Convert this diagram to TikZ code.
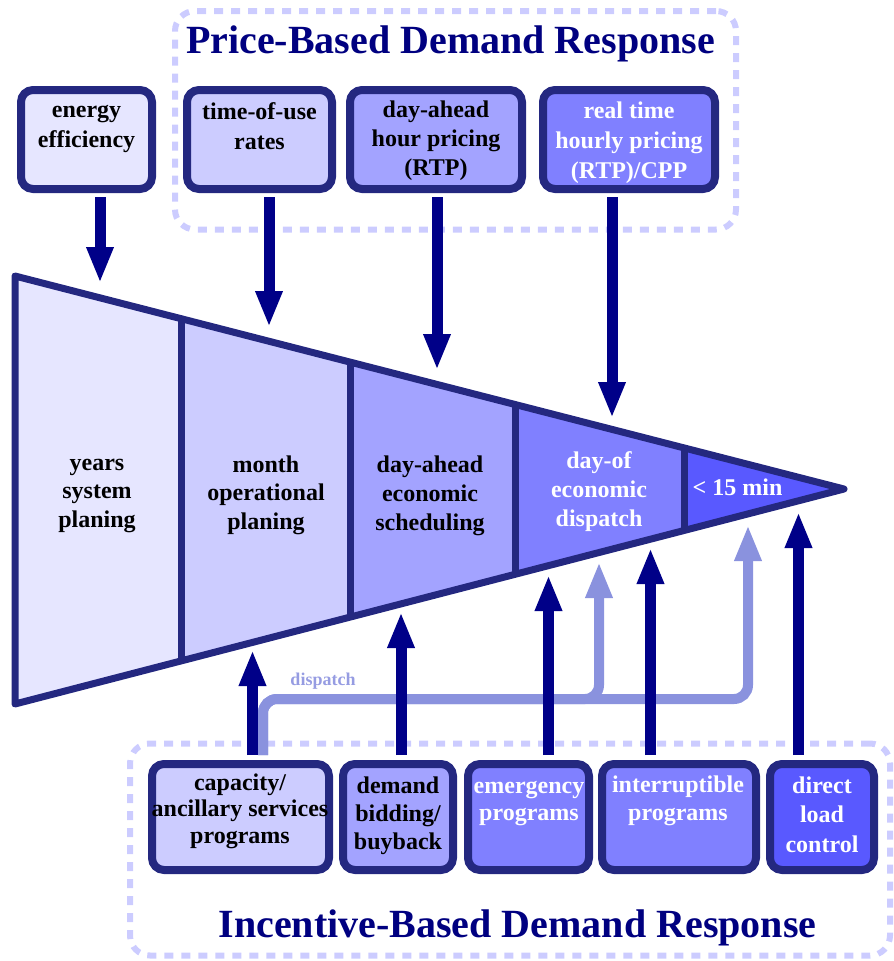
\documentclass[tikz,border=0pt]{standalone}
\usepackage{fontspec}
\setmainfont{Liberation Serif}
\usetikzlibrary{arrows.meta,calc}

\definecolor{bord}{RGB}{36,40,128}
\definecolor{arrdark}{RGB}{0,0,136}
\definecolor{arrlight}{RGB}{138,146,222}
\definecolor{labellight}{RGB}{150,156,226}
\definecolor{titlecol}{RGB}{0,0,128}
\definecolor{framecol}{RGB}{204,204,255}
\definecolor{fillA}{RGB}{230,230,255}
\definecolor{fillB}{RGB}{204,204,255}
\definecolor{fillC}{RGB}{163,163,255}
\definecolor{fillD}{RGB}{128,128,255}
\definecolor{fillE}{RGB}{89,89,255}

\begin{document}
\begin{tikzpicture}[x=1pt,y=-1pt,
  grp/.style={draw=framecol, line width=6pt, dash pattern=on 9pt off 8pt,
    rounded corners=20pt, rectangle, inner sep=0pt},
  prog/.style={draw=bord, line width=8pt, rounded corners=12pt, rectangle, inner sep=0pt},
  % multi-line labels are placed by the baseline of their last line
  txt/.style={inner sep=0pt, anchor=base, align=center,
    font=\fontsize{24}{#1}\selectfont\bfseries},
  txt/.default=29,
  title/.style={inner sep=0pt, anchor=base, text=titlecol,
    font=\fontsize{40}{44}\selectfont\bfseries},
  edge/.style={draw=bord, line width=7pt},
  darr/.style={draw=arrdark, line width=11pt, -{Triangle[width=25pt,length=36pt]}},
  larr/.style={draw=arrlight, line width=10pt, rounded corners=14pt,
    -{Triangle[width=25pt,length=36pt]}},
]
\useasboundingbox (0,0) rectangle (894,961);

% group frames
\node[grp, minimum width=561pt, minimum height=218.5pt] (price) at (455.5,120.25) {};
\node[grp, minimum width=760pt, minimum height=212pt] (incent) at (510,849.5) {};
\node[title] (priceT) at (450.5,53) {Price-Based Demand Response};
\node[title] (incT) at (517.5,937) {Incentive-Based Demand Response};

% the time-scale funnel
\coordinate (TL) at (15,276);
\coordinate (BL) at (15,704);
\coordinate (TIP) at (844,489);
\coordinate (d1t) at ($(TL)!0.2014!(TIP)$);
\coordinate (d1b) at ($(BL)!0.2014!(TIP)$);
\coordinate (d2t) at ($(TL)!0.4041!(TIP)$);
\coordinate (d2b) at ($(BL)!0.4041!(TIP)$);
\coordinate (d3t) at ($(TL)!0.6043!(TIP)$);
\coordinate (d3b) at ($(BL)!0.6043!(TIP)$);
\coordinate (d4t) at ($(TL)!0.8070!(TIP)$);
\coordinate (d4b) at ($(BL)!0.8070!(TIP)$);
\fill[fillA] (TL) -- (d1t) -- (d1b) -- (BL) -- cycle;
\fill[fillB] (d1t) -- (d2t) -- (d2b) -- (d1b) -- cycle;
\fill[fillC] (d2t) -- (d3t) -- (d3b) -- (d2b) -- cycle;
\fill[fillD] (d3t) -- (d4t) -- (d4b) -- (d3b) -- cycle;
\fill[fillE] (d4t) -- (TIP) -- (d4b) -- cycle;
\draw[edge] (d1t) -- (d1b);
\draw[edge] (d2t) -- (d2b);
\draw[edge] (d3t) -- (d3b);
\draw[edge] (d4t) -- (d4b);
\draw[edge, line join=round] (TL) -- (TIP) -- (BL) -- cycle;

\node[txt=28.5] (s1) at (97,527) {years\\system\\planing};
\node[txt=28.5] (s2) at (266,529) {month\\operational\\planing};
\node[txt=29] (s3) at (430,530) {day-ahead\\economic\\scheduling};
\node[txt=29, text=white] (s4) at (599,526) {day-of\\economic\\dispatch};
\node[txt, text=white] (s5) at (737.5,495) {< 15 min};

% programme boxes, top row
\node[prog, fill=fillA, minimum width=131pt, minimum height=99pt] (ee) at (86.5,139.5) {};
\node[prog, fill=fillB, minimum width=145pt, minimum height=99pt] (tou) at (259.5,139.5) {};
\node[prog, fill=fillC, minimum width=172pt, minimum height=99pt] (dah) at (436,139.5) {};
\node[prog, fill=fillD, minimum width=172pt, minimum height=99pt] (rtp) at (629,139.5) {};
\node[txt=30] (eeT) at (86.5,147) {energy\\efficiency};
\node[txt=30] (touT) at (259.5,149) {time-of-use\\rates};
\node[txt=29] (dahT) at (436,175) {day-ahead\\hour pricing\\(RTP)};
\node[txt=30, text=white] (rtpT) at (629,178) {real time\\hourly pricing\\(RTP)/CPP};

% programme boxes, bottom row
\node[prog, fill=fillB, minimum width=177pt, minimum height=106pt] (cap) at (240.5,817) {};
\node[prog, fill=fillC, minimum width=110pt, minimum height=106pt] (dbb) at (398,817) {};
\node[prog, fill=fillD, minimum width=121pt, minimum height=106pt] (emg) at (528.5,817) {};
\node[prog, fill=fillD, minimum width=154pt, minimum height=106pt] (intr) at (679,817) {};
\node[prog, fill=fillE, minimum width=104pt, minimum height=106pt] (dlc) at (822,817) {};
\node[txt=26.5] (capT) at (240,843) {capacity/\\ancillary services\\programs};
\node[txt=28] (dbbT) at (398,849) {demand\\bidding/\\buyback};
\node[txt=27, text=white] (emgT) at (529,820) {emergency\\programs};
\node[txt=28, text=white] (intrT) at (678,820) {interruptible\\programs};
\node[txt=29.5, text=white] (dlcT) at (822,852) {direct\\load\\control};

% dispatch feed from the capacity programmes
\coordinate (capD) at (263,755);
\coordinate (bendA) at (263,699);
\coordinate (bendB) at (599,699);
\coordinate (bendC) at (748,699);
\coordinate (lt1) at (599,562);
\coordinate (lt2) at (748,525);
\draw[larr] (capD) -- (bendA) -- (bendB) -- (lt1);
\draw[larr] (capD) -- (bendA) -- (bendC) -- (lt2);
\node[inner sep=0pt, anchor=base, text=labellight,
  font=\fontsize{18}{20}\selectfont\bfseries] (disp) at (323,685) {dispatch};

% price signals into the funnel
\coordinate (eeO) at (100,197);   \coordinate (eeI) at (100,283);
\coordinate (touO) at (269,197);  \coordinate (touI) at (269,327);
\coordinate (dahO) at (437,197);  \coordinate (dahI) at (437,370);
\coordinate (rtpO) at (612,197);  \coordinate (rtpI) at (612,418);
\draw[darr] (eeO) -- (eeI);
\draw[darr] (touO) -- (touI);
\draw[darr] (dahO) -- (dahI);
\draw[darr] (rtpO) -- (rtpI);

% incentive programmes into the funnel
\coordinate (capO) at (252.5,755);  \coordinate (capI) at (252.5,650);
\coordinate (dbbO) at (401,755);    \coordinate (dbbI) at (401,612);
\coordinate (emgO) at (548.5,755);  \coordinate (emgI) at (548.5,575);
\coordinate (intrO) at (650.5,755); \coordinate (intrI) at (650.5,548);
\coordinate (dlcO) at (798.5,755);  \coordinate (dlcI) at (798.5,512);
\draw[darr] (capO) -- (capI);
\draw[darr] (dbbO) -- (dbbI);
\draw[darr] (emgO) -- (emgI);
\draw[darr] (intrO) -- (intrI);
\draw[darr] (dlcO) -- (dlcI);
\end{tikzpicture}
\end{document}
